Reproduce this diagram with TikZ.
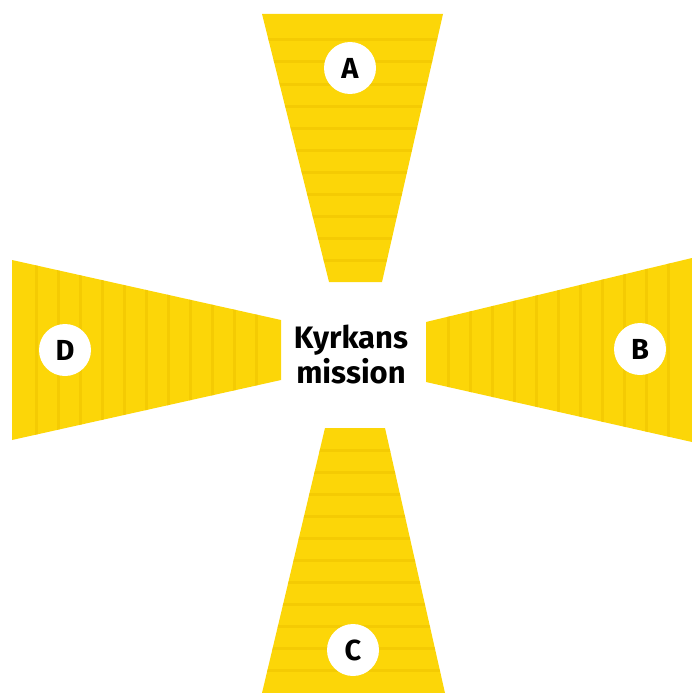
\documentclass[tikz,border=0pt]{standalone}
\usepackage{fontspec}
\setmainfont{Fira Sans}
\definecolor{yel}{RGB}{252,214,8}
\definecolor{yeldark}{RGB}{238,194,0}
\begin{document}
\begin{tikzpicture}[x=1pt,y=-1pt,
  petal/.style={fill=yel,draw=none},
  stripe/.style={draw=yeldark,line width=3pt,opacity=0.5},
  badge/.style={circle,fill=white,minimum size=52pt,inner sep=0pt,font=\fontsize{29}{29}\selectfont\bfseries},
  centre/.style={align=center,font=\fontsize{31}{35}\selectfont\bfseries}]
\useasboundingbox (0,0) rectangle (692,693);
% A (top)
\begin{scope}
\clip (262,14) -- (443,14) -- (382,282) -- (329,282) -- cycle;
\fill[yel] (250,0) rectangle (450,290);
\foreach \y in {40,62,84,106,128,150,172,194,216,238,260} \draw[stripe] (250,\y) -- (450,\y);
\end{scope}
% C (bottom)
\begin{scope}
\clip (325,428) -- (385,428) -- (445,693) -- (262,693) -- cycle;
\fill[yel] (250,420) rectangle (450,693);
\foreach \y in {450,472,494,516,538,560,582,604,626,648,670} \draw[stripe] (250,\y) -- (450,\y);
\end{scope}
% D (left)
\begin{scope}
\clip (12,260) -- (281,320) -- (281,380) -- (12,440) -- cycle;
\fill[yel] (0,250) rectangle (290,450);
\foreach \x in {36,58,80,102,124,146,168,190,212,234,256} \draw[stripe] (\x,250) -- (\x,450);
\end{scope}
% B (right)
\begin{scope}
\clip (426,322) -- (692,258) -- (692,442) -- (426,382) -- cycle;
\fill[yel] (420,250) rectangle (692,450);
\foreach \x in {448,470,492,514,536,558,580,602,624,646,668} \draw[stripe] (\x,250) -- (\x,450);
\end{scope}
\node[badge] (a) at (350,68) {A};
\node[badge] (b) at (640,349) {B};
\node[badge] (c) at (353,650) {C};
\node[badge] (d) at (65,350) {D};
\node[centre] (m) at (351,354) {Kyrkans\\mission};
\end{tikzpicture}
\end{document}
